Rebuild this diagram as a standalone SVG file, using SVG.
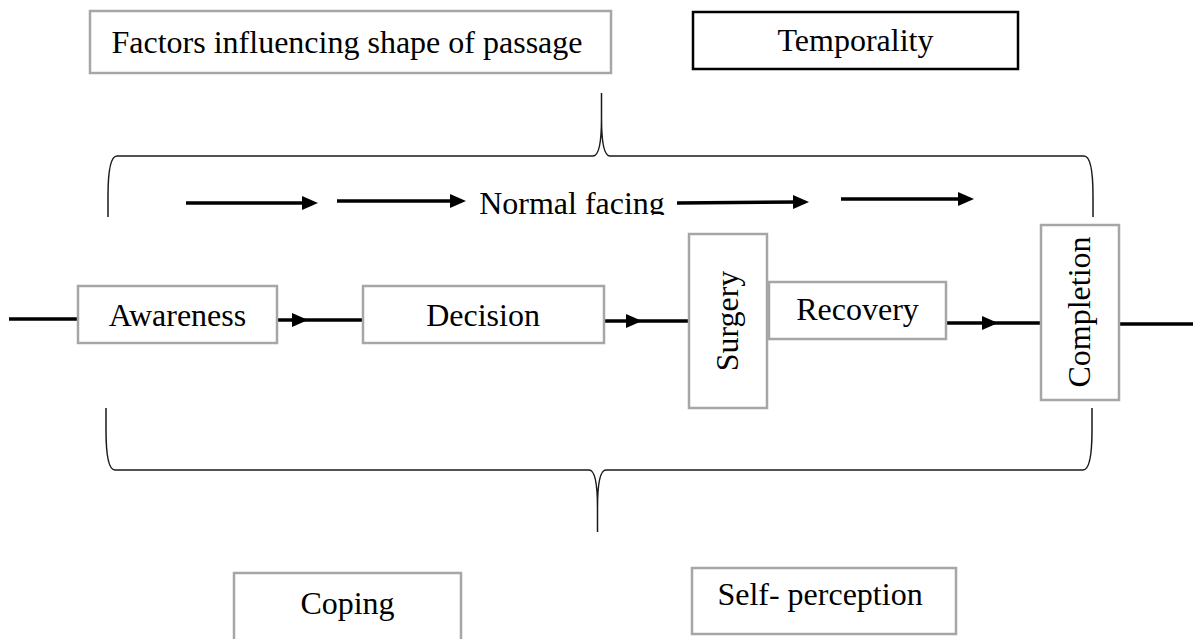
<svg xmlns="http://www.w3.org/2000/svg" width="1198" height="639" viewBox="0 0 1198 639">
<style>
  text { font-family: "Liberation Serif", "Times New Roman", serif; font-size: 32px; fill: #000; }
  .box { fill: #fff; stroke: #a6a6a6; stroke-width: 2.5; }
  .box-dark { fill: #fff; stroke: #000; stroke-width: 2.5; }
  .flow { stroke: #000; stroke-width: 3.5; fill: none; }
  .brace { stroke: #1a1a1a; stroke-width: 1.5; fill: none; }
</style>
<defs>
  <marker id="ah" markerUnits="userSpaceOnUse" markerWidth="16" markerHeight="14" refX="6" refY="7" orient="auto">
    <path d="M0,0 L16,7 L0,14 z" fill="#000"/>
  </marker>
  <clipPath id="clipNF">
    <rect x="470" y="180" width="200" height="35"/>
  </clipPath>
</defs>
<rect width="1198" height="639" fill="#fff"/>

<g id="connectors">
  <path class="brace" d="M108,217 L108,196 C108,170 111,156 117,156 L593,156 C599,156 601.5,140 601.5,118 L601.5,93 L601.5,118 C601.5,140 604,156 610,156 L1084,156 C1090,156 1093,170 1093,196 L1093,217"/>
  <path class="brace" d="M106,408 L106,430 C106,456 109,470 115,470 L589,470 C595,470 597.5,486 597.5,508 L597.5,532 L597.5,508 C597.5,486 600,470 606,470 L1083,470 C1089,470 1092,456 1092,430 L1092,408"/>
  <line class="flow" x1="186" y1="203" x2="308" y2="203" marker-end="url(#ah)"/>
  <line class="flow" x1="337" y1="201" x2="456" y2="201" marker-end="url(#ah)"/>
  <line class="flow" x1="677" y1="203" x2="799" y2="202" marker-end="url(#ah)"/>
  <line class="flow" x1="841" y1="199" x2="964" y2="199" marker-end="url(#ah)"/>
  <line class="flow" x1="9" y1="319" x2="78" y2="319"/>
  <line class="flow" x1="277" y1="320" x2="298" y2="320" marker-end="url(#ah)"/>
  <line class="flow" x1="300" y1="320" x2="363" y2="320"/>
  <line class="flow" x1="604" y1="321" x2="632" y2="321" marker-end="url(#ah)"/>
  <line class="flow" x1="634" y1="321" x2="689" y2="321"/>
  <line class="flow" x1="767" y1="321" x2="769" y2="321"/>
  <line class="flow" x1="946" y1="323" x2="988" y2="323" marker-end="url(#ah)"/>
  <line class="flow" x1="990" y1="323" x2="1041" y2="323"/>
  <line class="flow" x1="1119" y1="324" x2="1193" y2="324"/>
</g>

<g id="factors">
  <rect class="box" x="90" y="11" width="521" height="62"/>
  <text x="347" y="53" text-anchor="middle">Factors influencing shape of passage</text>
</g>
<g id="temporality">
  <rect class="box-dark" x="693" y="12" width="325" height="57"/>
  <text x="855.5" y="51" text-anchor="middle">Temporality</text>
</g>
<g id="normal-facing">
  <text x="572" y="214" text-anchor="middle" clip-path="url(#clipNF)">Normal facing</text>
</g>
<g id="awareness">
  <rect class="box" x="78" y="286" width="199" height="57"/>
  <text x="177.5" y="326" text-anchor="middle">Awareness</text>
</g>
<g id="decision">
  <rect class="box" x="363" y="286" width="241" height="57"/>
  <text x="483" y="326" text-anchor="middle">Decision</text>
</g>
<g id="surgery">
  <rect class="box" x="689" y="234" width="78" height="174"/>
  <text transform="translate(738,321) rotate(-90)" text-anchor="middle">Surgery</text>
</g>
<g id="recovery">
  <rect class="box" x="769" y="282" width="177" height="57"/>
  <text x="857.5" y="320" text-anchor="middle">Recovery</text>
</g>
<g id="completion">
  <rect class="box" x="1041" y="225" width="78" height="175"/>
  <text transform="translate(1090,312) rotate(-90)" text-anchor="middle">Completion</text>
</g>
<g id="coping">
  <rect class="box" x="234" y="573" width="227" height="80"/>
  <text x="347.5" y="614" text-anchor="middle">Coping</text>
</g>
<g id="self-perception">
  <rect class="box" x="692" y="568" width="264" height="66"/>
  <text x="820" y="605" text-anchor="middle">Self- perception</text>
</g>
</svg>
